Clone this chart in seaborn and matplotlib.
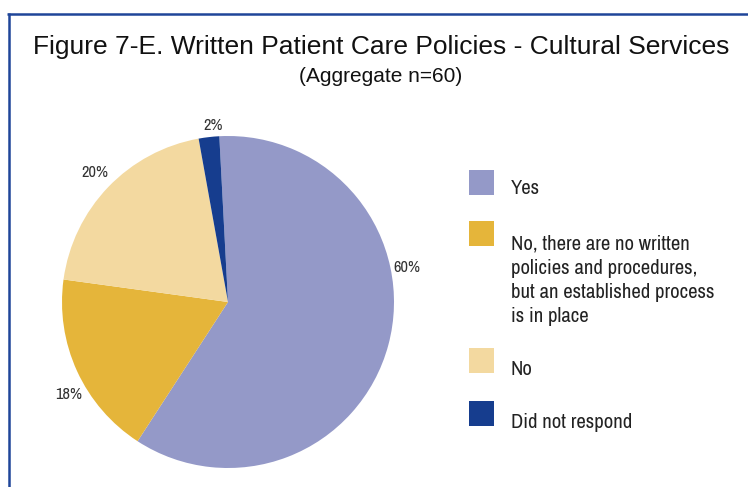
import matplotlib
matplotlib.use("Agg")
import matplotlib.pyplot as plt
import seaborn as sns
from matplotlib import font_manager
from matplotlib.lines import Line2D
from matplotlib.patches import Rectangle

# ---- data ----
categories = [
    "Yes",
    "No, there are no written\npolicies and procedures,\nbut an established process\nis in place",
    "No",
    "Did not respond",
]
values = [60, 18, 20, 2]
hex_colors = ["#9499C8", "#E5B53A", "#F3D9A0", "#163D8E"]
title = "Figure 7-E. Written Patient Care Policies - Cultural Services"
subtitle = "(Aggregate n=60)"

# label positions (in pie radius units) for each slice's percentage
label_pos = [(1.08, 0.21), (-0.96, -0.56), (-0.80, 0.78), (-0.09, 1.065)]

sns.set_theme(style="white")
plt.rcParams["font.family"] = ["Liberation Sans"]

# pick a condensed sans face (the reference uses a condensed Helvetica)
smap = {"ultra-condensed": 100, "extra-condensed": 200, "condensed": 300,
        "semi-condensed": 400, "normal": 500}
best, best_score = None, None
for f in font_manager.fontManager.ttflist:
    st = f.stretch
    stv = smap.get(st, st) if not isinstance(st, (int, float)) else st
    if not isinstance(stv, (int, float)):
        continue
    if "Narrow" in f.name:
        stv = 320
    if stv >= 500:
        continue
    if any(k in f.name for k in ("Mono", "Serif", "CJK")):
        continue
    if f.style != "normal" or f.weight not in (400, "normal", "regular"):
        continue
    score = abs(stv - 320) - (50 if "Liberation" in f.name else 0)
    if best is None or score < best_score:
        best, best_score = f, score

if best is not None:
    nfam = [best.name, "Liberation Sans"]
    nstretch = best.stretch
else:
    nfam = ["Liberation Sans"]
    nstretch = "normal"

colors = sns.color_palette(hex_colors)

W, H = 748, 487
fig = plt.figure(figsize=(W / 100, H / 100), dpi=100)
fig.patch.set_facecolor("white")
renderer = fig.canvas.get_renderer()


def fx(x):
    return x / W


def fy(y):
    return 1 - y / H


def fit_size(text, target_px, fs0=14):
    t = fig.text(0, 0, text, fontsize=fs0, family=nfam, fontstretch=nstretch)
    w = t.get_window_extent(renderer).width
    t.remove()
    return fs0 * target_px / w


# frame lines
border = "#1F4599"
fig.add_artist(Line2D([fx(7), fx(748)], [fy(13.5), fy(13.5)], color=border, lw=1.8,
                      transform=fig.transFigure, solid_capstyle="butt"))
fig.add_artist(Line2D([fx(8.5), fx(8.5)], [fy(12.5), fy(487)], color=border, lw=1.8,
                      transform=fig.transFigure, solid_capstyle="butt"))

# titles
fig.text(fx(381.5), fy(54), title, ha="center", va="baseline", fontsize=19, color="#111111")
fig.text(fx(381), fy(82), subtitle, ha="center", va="baseline", fontsize=15, color="#111111")

# font sizes fitted to the reference text widths
leg_fs = fit_size("but an established process", 202)
pct_fs = fit_size("60%", 27)

# pie
cx, cy, r = 228, 302, 166
ax = fig.add_axes([fx(cx - r), fy(cy + r), 2 * r / W, 2 * r / H])
ax.pie(values, colors=colors, startangle=93, counterclock=False,
       wedgeprops=dict(linewidth=0))
ax.set_xlim(-1, 1)
ax.set_ylim(-1, 1)
ax.set_aspect("equal")
ax.axis("off")

for v, (px, py) in zip(values, label_pos):
    ax.text(px, py, f"{v}%", ha="center", va="center", fontsize=pct_fs,
            color="#333333", family=nfam, fontstretch=nstretch)

# legend
line_gap = 25.8  # px between lines
probe = fig.text(0, 0, "A\nA", fontsize=leg_fs, family=nfam, fontstretch=nstretch,
                 linespacing=1.0)
h2 = probe.get_window_extent(renderer).height
probe.remove()
probe = fig.text(0, 0, "A", fontsize=leg_fs, family=nfam, fontstretch=nstretch)
h1 = probe.get_window_extent(renderer).height
probe.remove()
unit_gap = h2 - h1
lsp = line_gap / unit_gap if unit_gap > 0 else 1.3

sq_tops = [170, 221, 348, 401]
first_baselines = [194, 245, 375, 428]
for cat, col, top, base in zip(categories, colors, sq_tops, first_baselines):
    fig.add_artist(Rectangle((fx(469), fy(top + 25)), 25 / W, 25 / H,
                             transform=fig.transFigure, facecolor=col, edgecolor="none"))
    nlines = cat.count("\n")
    fig.text(fx(511), fy(base + nlines * line_gap), cat, ha="left", va="baseline",
             fontsize=leg_fs, color="#222222", family=nfam, fontstretch=nstretch,
             linespacing=lsp)

fig.savefig("out.png", dpi=100, facecolor="white")
